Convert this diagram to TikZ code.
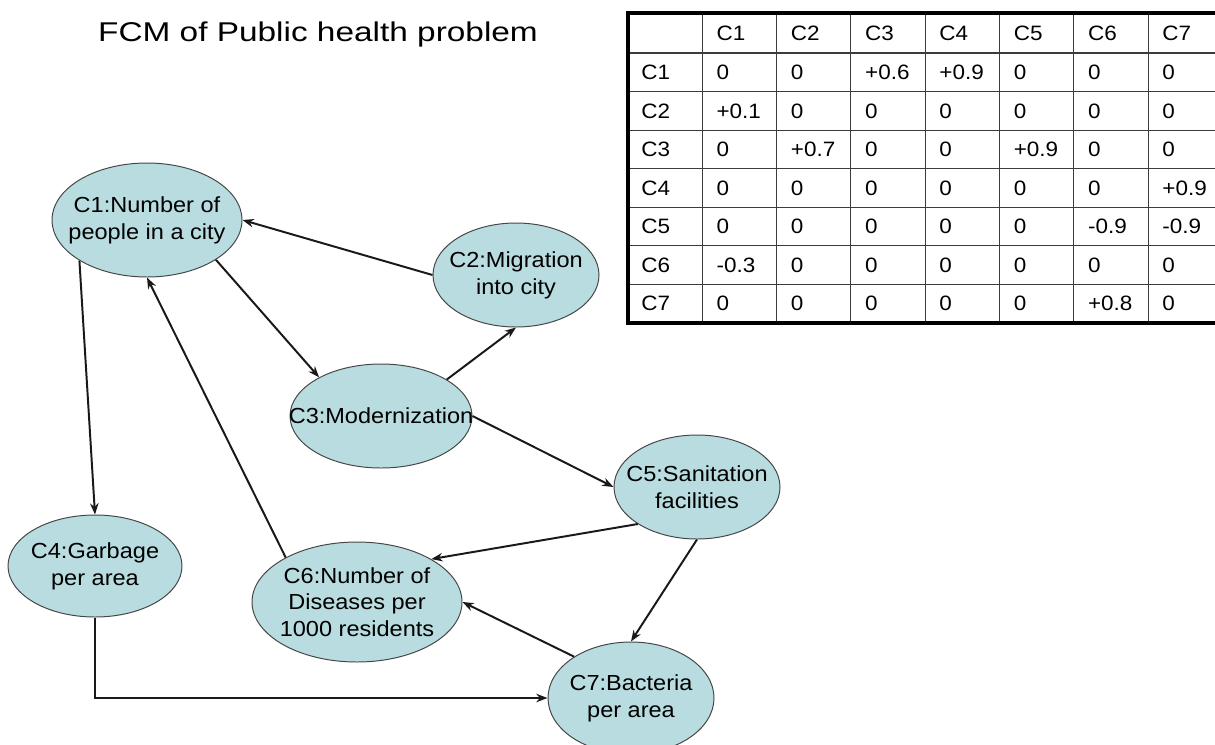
\documentclass[tikz,border=0pt]{standalone}
\usepackage{fontspec}
\setmainfont{Liberation Sans}[FakeStretch=1.08]
\newfontfamily\titlefont{Liberation Sans}[FakeStretch=1.23]
\usepackage{tikz}
\usetikzlibrary{shapes, arrows.meta, positioning, calc}

\definecolor{conceptfill}{RGB}{184,220,223}
\definecolor{conceptline}{RGB}{70,70,70}
\definecolor{gridline}{RGB}{60,60,60}

\tikzset{
  concept/.style 2 args={ellipse, draw=conceptline, line width=0.7pt, fill=conceptfill, inner sep=0pt,
    minimum width=#1*0.025cm, minimum height=#2*0.025cm},
  concepttext/.style={align=center, inner sep=0pt, font=\fontsize{15.5}{19}\selectfont},
  link/.style={line width=1.4pt, draw=black!90, -{Stealth[length=8pt, width=6pt]}},
  cell/.style={anchor=west, inner sep=0pt, font=\fontsize{14.8}{16}\selectfont}
}

\begin{document}
\begin{tikzpicture}[x=0.025cm, y=-0.025cm]

\useasboundingbox (0,0) rectangle (1215,744);

%//title
\node [font=\titlefont\fontsize{19.3}{22}\selectfont] (title) at (318,34) {FCM of Public health problem};

%//weight matrix, starting at (628,13)
\def\colw{74.3}
\def\rowh{38.57}

\foreach \j in {1,...,7}
\draw [gridline, line width=0.8pt] (628+\colw*\j,13) -- (628+\colw*\j,323);
\foreach \i in {1,...,7}
\draw [gridline, line width=0.8pt] (628,14.43+\rowh*\i) -- (1222,14.43+\rowh*\i);

\draw [line width=2.2pt] (628,13) rectangle (1222.4,323);

\foreach \j in {1,...,7}
\node [cell] (h\j) at (642+\colw*\j, 33) {C\j};

\foreach \row [count=\i] in {{0,0,+0.6,+0.9,0,0,0},{+0.1,0,0,0,0,0,0},{0,+0.7,0,0,+0.9,0,0},{0,0,0,0,0,0,+0.9},{0,0,0,0,0,-0.9,-0.9},{-0.3,0,0,0,0,0,0},{0,0,0,0,0,+0.8,0}}{
\node [cell] (r\i) at (641, 33.71+\rowh*\i) {C\i};
\foreach \val [count=\j] in \row
\node [cell] (m\i\j) at (642+\colw*\j, 33.71+\rowh*\i) {\val};
}

%//concepts
\node [concept={190}{114}, label={[concepttext]center:{C1:Number of\\people in a city}}] (c1) at (147,220) {};
\node [concept={166}{104}, label={[concepttext]center:{C2:Migration\\into city}}] (c2) at (516,275) {};
\node [concept={182}{104}, label={[concepttext]center:{C3:Modernization}}] (c3) at (381,416) {};
\node [concept={174}{102}, label={[concepttext]center:{C4:Garbage\\per area}}] (c4) at (95,566) {};
\node [concept={166}{104}, label={[concepttext]center:{C5:Sanitation\\facilities}}] (c5) at (697,487) {};
\node [concept={210}{120}, label={[concepttext]center:{C6:Number of\\Diseases per\\1000 residents}}] (c6) at (357,602) {};
\node [concept={166}{112}, label={[concepttext]center:{C7:Bacteria\\per area}}] (c7) at (631,698) {};

%//causal links
\draw [link] (c2.west) -- (c1.east);
\draw [link] (c1.-30) -- (c3.148);
\draw [link] (c3.29) -- (c2.south);
\draw [link] (c3.east) -- (c5.west);
\draw [link] (c1.211) -- (c4.north);
\draw [link] (c6.148) -- (c1.south);
\draw [link] (c5.212) -- (c6.30);
\draw [link] (c5.south) -- (c7.north);
\draw [link] (c7.144) -- (c6.east);
\draw [link] (c4.south) |- (c7.west);

\end{tikzpicture}
\end{document}
